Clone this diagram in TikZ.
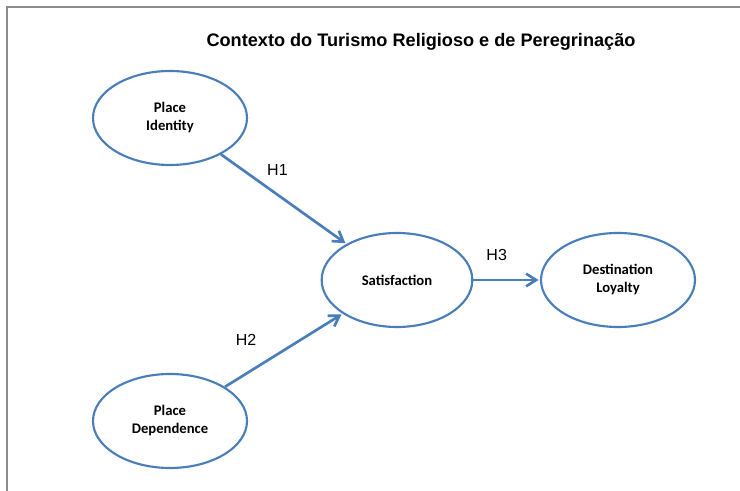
\documentclass[tikz,border=0pt]{standalone}
\usepackage{tikz}
\usetikzlibrary{positioning,arrows}
\usetikzlibrary{shapes}
\usetikzlibrary{arrows.meta}
\usepackage{xcolor}
\usepackage{fontspec}
\setmainfont{Liberation Sans}
\newfontfamily\calibri{Carlito}
\definecolor{linkblue}{RGB}{74,126,187}
\definecolor{framegray}{RGB}{140,140,140}

\begin{document}
\begin{tikzpicture}[x=0.75pt,y=-0.75pt]
	\useasboundingbox (0,0) rectangle (740,491);
	\draw [framegray, line width=0.9pt] (7,491) -- (7,7) -- (740,7);
	\draw (421,42) node (title) [font=\bfseries\fontsize{13.6}{16}\selectfont]{Contexto do Turismo Religioso e de Peregrinação};
	\tikzstyle{every node}=[ellipse, draw=linkblue, line width=1.6pt, align=center, inner sep=0pt, minimum width=115.5pt, minimum height=70.5pt, font=\calibri\bfseries\fontsize{11}{13.5}\selectfont]
	\draw (170,118) node (ident) {Place\\Identity};
	\draw (170,421) node (depend) {Place\\Dependence};
	\draw (397,280) node (satis) [minimum width=113pt] {Satisfaction};
	\draw (618,280) node (loyal) {Destination\\Loyalty};
	\tikzstyle{every node}=[text=black, font=\fontsize{12}{14}\selectfont]
	\draw [linkblue, line width=2pt, shorten >=1pt, -{Straight Barb[length=7.5pt,width=9.5pt]}] (ident) to node[pos=0.45, above=10pt] {H1} (satis);
	\draw [linkblue, line width=2pt, shorten >=1pt, -{Straight Barb[length=7.5pt,width=9.5pt]}] (depend) to node[pos=0.18, above=17pt] {H2} (satis);
	\draw [linkblue, line width=2pt, shorten >=1pt, -{Straight Barb[length=7.5pt,width=9.5pt]}] (satis) to node[pos=0.35, above=10pt] {H3} (loyal);
\end{tikzpicture}
\end{document}
